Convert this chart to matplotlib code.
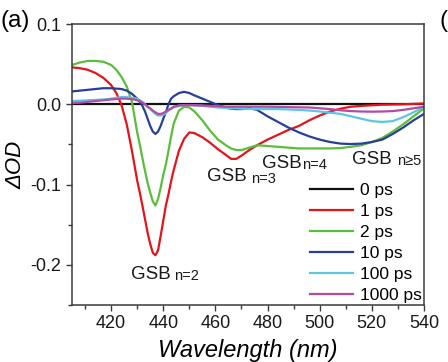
import numpy as np
import matplotlib
matplotlib.use('Agg')
import matplotlib.pyplot as plt
from matplotlib.ticker import MultipleLocator, FixedLocator

plt.rcParams['font.family'] = ['Liberation Sans', 'DejaVu Sans']

wavelength = [405, 408, 411, 414, 417, 420, 422, 424, 426, 428, 430, 431, 432, 433, 434,
              435, 436, 437, 438, 439, 440, 441, 442, 443, 444, 446, 448, 450, 452, 455,
              458, 461, 464, 466, 468, 470, 473, 476, 480, 484, 488, 492, 496, 500, 504,
              508, 512, 516, 520, 524, 528, 532, 536, 540]

od_0ps = [0.0] * len(wavelength)

od_1ps = [0.046, 0.045, 0.043, 0.039, 0.033, 0.024, 0.014, -0.001, -0.025, -0.058, -0.095,
          -0.110, -0.126, -0.143, -0.160, -0.174, -0.185, -0.188, -0.182, -0.164, -0.145,
          -0.126, -0.112, -0.096, -0.082, -0.058, -0.043, -0.035, -0.036, -0.041, -0.048,
          -0.056, -0.063, -0.068, -0.068, -0.064, -0.057, -0.051, -0.044, -0.038, -0.032,
          -0.027, -0.020, -0.014, -0.009, -0.0055, -0.003, -0.002, -0.0012, -0.0006,
          -0.0003, 0.0, 0.0005, 0.001]

od_2ps = [0.049, 0.052, 0.054, 0.054, 0.053, 0.049, 0.043, 0.034, 0.022, 0.003, -0.035,
          -0.050, -0.067, -0.083, -0.098, -0.110, -0.121, -0.126, -0.118, -0.104, -0.088,
          -0.075, -0.058, -0.040, -0.024, -0.008, -0.003, -0.004, -0.009, -0.020, -0.033,
          -0.044, -0.051, -0.055, -0.057, -0.057, -0.054, -0.051, -0.052, -0.053, -0.054,
          -0.055, -0.055, -0.055, -0.055, -0.0545, -0.053, -0.051, -0.047, -0.042, -0.034,
          -0.025, -0.015, -0.005]

od_10ps = [0.016, 0.017, 0.018, 0.019, 0.020, 0.020, 0.0195, 0.019, 0.017, 0.013, 0.007,
           0.003, -0.002, -0.009, -0.018, -0.027, -0.034, -0.037, -0.034, -0.027, -0.018,
           -0.010, 0.000, 0.007, 0.010, 0.014, 0.0155, 0.014, 0.011, 0.007, 0.003, -0.001,
           -0.004, -0.0055, -0.006, -0.006, -0.005, -0.007, -0.015, -0.022, -0.029, -0.035,
           -0.040, -0.044, -0.047, -0.049, -0.0495, -0.049, -0.047, -0.044, -0.037, -0.029,
           -0.020, -0.012]

od_100ps = [0.004, 0.0045, 0.005, 0.0055, 0.006, 0.007, 0.008, 0.009, 0.009, 0.008, 0.007,
            0.005, 0.003, 0.000, -0.003, -0.006, -0.009, -0.012, -0.014, -0.014, -0.013,
            -0.011, -0.008, -0.006, -0.004, -0.002, -0.001, -0.001, -0.0015, -0.002, -0.003,
            -0.004, -0.0045, -0.005, -0.005, -0.0055, -0.0058, -0.006, -0.006, -0.006,
            -0.0065, -0.007, -0.0078, -0.009, -0.0105, -0.012, -0.015, -0.018, -0.021,
            -0.022, -0.021, -0.016, -0.010, -0.003]

od_1000ps = [0.0015, 0.002, 0.003, 0.004, 0.005, 0.006, 0.0065, 0.007, 0.007, 0.0065, 0.005,
             0.004, 0.002, 0.000, -0.003, -0.005, -0.008, -0.010, -0.012, -0.012, -0.011,
             -0.009, -0.007, -0.005, -0.003, -0.0015, -0.001, -0.001, -0.0012, -0.0015,
             -0.002, -0.0025, -0.003, -0.003, -0.003, -0.003, -0.003, -0.003, -0.003,
             -0.0032, -0.0035, -0.0038, -0.004, -0.005, -0.006, -0.0075, -0.0085, -0.009,
             -0.0092, -0.009, -0.0085, -0.007, -0.005, -0.003]

delay_labels = ['0 ps', '1 ps', '2 ps', '10 ps', '100 ps', '1000 ps']
series = [od_0ps, od_1ps, od_2ps, od_10ps, od_100ps, od_1000ps]
colors = ['#111111', '#e3141b', '#5bbd3c', '#283f98', '#5ec6e2', '#b34aa6']

fig = plt.figure(figsize=(4.48, 3.62), dpi=100)
ax = fig.add_axes([0.1607, 0.1575, 0.7857, 0.7762])

for vals, lab, col in zip(series, delay_labels, colors):
    ax.plot(wavelength, vals, color=col, lw=1.6, label=lab)

ax.set_xlim(405, 540)
ax.set_ylim(-0.25, 0.1)
ax.set_xticks([420, 440, 460, 480, 500, 520, 540])
ax.xaxis.set_minor_locator(MultipleLocator(10))
ax.set_yticks([-0.2, -0.1, 0.0, 0.1])
ax.set_yticklabels(['-0.2', '-0.1', '0.0', '0.1'])
ax.yaxis.set_minor_locator(FixedLocator([-0.25, -0.15, -0.05]))

spine_col = '#3a3a3a'
for s in ax.spines.values():
    s.set_color(spine_col)
    s.set_linewidth(1.1)
ax.tick_params(which='both', direction='out', top=False, right=False,
               color=spine_col, width=1.0, labelsize=13, labelcolor='#1a1a1a')
ax.tick_params(which='major', length=4.5, pad=3)
ax.tick_params(which='minor', length=3)

ax.set_xlabel('Wavelength (nm)', fontsize=17, style='italic', labelpad=5)
ax.set_ylabel('ΔOD', fontsize=16, style='italic', labelpad=3)

# band labels
gsb_labels = [('n=2', 427.8, -0.2175, 444.3, -0.2195),
              ('n=3', 456.6, -0.096, 473.6, -0.098),
              ('n=4', 477.8, -0.079, 493.4, -0.0805),
              ('n≥5', 512.4, -0.074, 529.6, -0.0755)]
for sub, x0, y0, x1, y1 in gsb_labels:
    ax.text(x0, y0, 'GSB', fontsize=13.5, ha='left', va='baseline', color='#1a1a1a')
    ax.text(x1, y1, sub, fontsize=10.5, ha='left', va='baseline', color='#1a1a1a')

leg = ax.legend(loc='lower right', frameon=False, fontsize=12.5, handlelength=2.5,
                handletextpad=0.4, labelspacing=0.34, borderaxespad=0.05, borderpad=0.05)

fig.text(0.5 / 448, 1 - 27 / 362, '(a)', fontsize=17.5, ha='left', va='baseline')
fig.text(439.5 / 448, 1 - 27 / 362, '(', fontsize=17.5, ha='left', va='baseline')

fig.savefig('out.png', dpi=100)
